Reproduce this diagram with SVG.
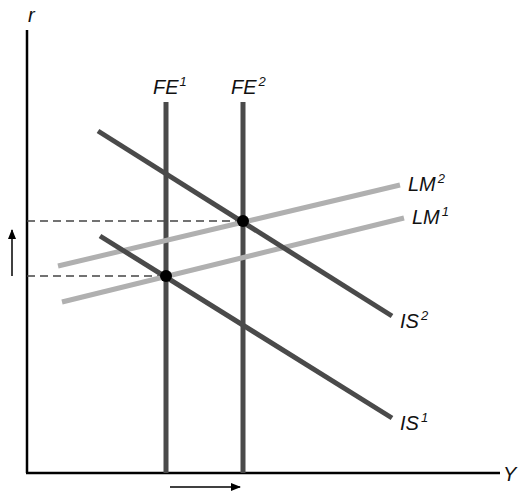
<svg xmlns="http://www.w3.org/2000/svg" width="519" height="493" viewBox="0 0 519 493">
<style>
.lbl{font-family:"Liberation Sans",Arial,sans-serif;font-style:italic;font-size:20px;fill:#111}
.sup{font-size:13px}
.dark{stroke:#4a4a4a;stroke-width:5;fill:none}
.light{stroke:#b0b0b0;stroke-width:5;fill:none}
.axis{stroke:#000;stroke-width:2.5;fill:none}
.dash{stroke:#444;stroke-width:1.5;stroke-dasharray:8,5;fill:none}
.arr{stroke:#000;stroke-width:1.5;fill:none}
</style>
<defs>
<marker id="ah" markerWidth="10" markerHeight="8" refX="9" refY="4" orient="auto" markerUnits="userSpaceOnUse">
<path d="M0,0 L10,4 L0,8 z" fill="#000"/>
</marker>
</defs>
<rect width="519" height="493" fill="#fff"/>
<g id="axes">
<line class="axis" x1="27" y1="30" x2="27" y2="473"/>
<line class="axis" x1="26" y1="473" x2="500" y2="473"/>
<text class="lbl" x="28" y="22">r</text>
<text class="lbl" x="503" y="481">Y</text>
</g>
<g id="connectors">
<line class="dash" x1="27" y1="221" x2="243" y2="221"/>
<line class="dash" x1="27" y1="276" x2="166" y2="276"/>
<line class="arr" x1="12" y1="276" x2="12" y2="230" marker-end="url(#ah)"/>
<line class="arr" x1="170" y1="487" x2="240" y2="487" marker-end="url(#ah)"/>
</g>
<g id="FE1">
<line class="dark" x1="166" y1="102" x2="166" y2="473"/>
<text class="lbl" x="153" y="94">FE<tspan class="sup" dx="1" dy="-8">1</tspan></text>
</g>
<g id="FE2">
<line class="dark" x1="243" y1="102" x2="243" y2="473"/>
<text class="lbl" x="231" y="94">FE<tspan class="sup" dx="2" dy="-8">2</tspan></text>
</g>
<g id="LM2">
<line class="light" x1="58" y1="266" x2="400" y2="185"/>
<text class="lbl" x="408" y="191">LM<tspan class="sup" dx="2" dy="-8">2</tspan></text>
</g>
<g id="LM1">
<line class="light" x1="62" y1="302" x2="404" y2="218"/>
<text class="lbl" x="412" y="224">LM<tspan class="sup" dx="2" dy="-8">1</tspan></text>
</g>
<g id="IS2">
<line class="dark" x1="98" y1="131" x2="392" y2="316"/>
<text class="lbl" x="400" y="328">IS<tspan class="sup" dx="2" dy="-8">2</tspan></text>
</g>
<g id="IS1">
<line class="dark" x1="100" y1="236" x2="392" y2="418"/>
<text class="lbl" x="400" y="430">IS<tspan class="sup" dx="2" dy="-8">1</tspan></text>
</g>
<g id="eq2"><circle cx="243" cy="221" r="6" fill="#000"/></g>
<g id="eq1"><circle cx="166" cy="276" r="6" fill="#000"/></g>
</svg>
